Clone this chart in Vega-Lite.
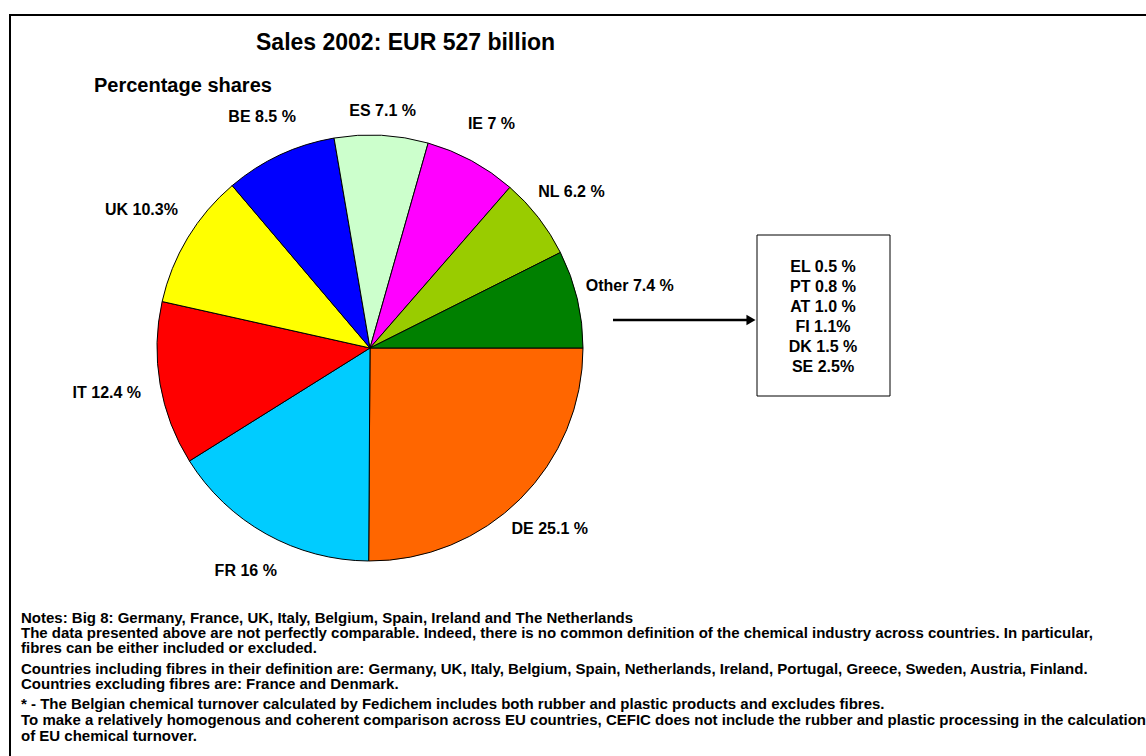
{
  "$schema": "https://vega.github.io/schema/vega-lite/v6.json",
  "width": 1146,
  "height": 756,
  "autosize": {"type": "none"},
  "padding": 0,
  "background": "white",
  "config": {"view": {"stroke": null}, "font": "Liberation Sans", "text": {"font": "Liberation Sans"}},
  "datasets": {
    "shares": [
      {"country": "DE", "share": 25.1, "label": "DE 25.1 %"},
      {"country": "FR", "share": 16, "label": "FR 16 %"},
      {"country": "IT", "share": 12.4, "label": "IT 12.4 %"},
      {"country": "UK", "share": 10.3, "label": "UK 10.3%"},
      {"country": "BE", "share": 8.5, "label": "BE 8.5 %"},
      {"country": "ES", "share": 7.1, "label": "ES 7.1 %"},
      {"country": "IE", "share": 7, "label": "IE 7 %"},
      {"country": "NL", "share": 6.2, "label": "NL 6.2 %"},
      {"country": "Other", "share": 7.4, "label": "Other 7.4 %"}
    ]
  },
  "layer": [
    {
      "data": {"values": [{}]},
      "mark": {"type": "rect", "fill": "white", "stroke": "black", "strokeWidth": 2},
      "encoding": {
        "x": {"datum": 10, "type": "quantitative", "scale": {"domain": [0, 1146], "range": [0, 1146], "nice": false, "zero": false}, "axis": null},
        "x2": {"datum": 1200},
        "y": {"datum": 15, "type": "quantitative", "scale": {"domain": [0, 756], "range": [0, 756], "nice": false, "zero": false}, "axis": null},
        "y2": {"datum": 800}
      }
    },
    {
      "data": {"name": "shares"},
      "transform": [{"window": [{"op": "row_number", "as": "idx"}]}],
      "mark": {"type": "arc", "outerRadius": 213, "stroke": "black", "strokeWidth": 1},
      "encoding": {
        "x": {"datum": 370, "type": "quantitative"},
        "y": {"datum": 348, "type": "quantitative"},
        "theta": {"field": "share", "type": "quantitative", "stack": true, "scale": {"type": "linear", "domain": [0, 100], "range": [1.5708, 7.854]}},
        "order": {"field": "idx", "type": "quantitative"},
        "color": {
          "field": "country", "type": "nominal",
          "scale": {"domain": ["DE", "FR", "IT", "UK", "BE", "ES", "IE", "NL", "Other"], "range": ["#FF6600", "#00CCFF", "#FF0000", "#FFFF00", "#0000FF", "#CCFFCC", "#FF00FF", "#99CC00", "#008000"]},
          "legend": null
        }
      }
    },
    {
      "data": {"name": "shares"},
      "transform": [{"window": [{"op": "row_number", "as": "idx"}]}],
      "mark": {"type": "text", "radius": 237, "fontSize": 16, "fontWeight": "bold", "align": "center", "baseline": "middle", "color": "black"},
      "encoding": {
        "x": {"datum": 370, "type": "quantitative"},
        "y": {"datum": 348, "type": "quantitative"},
        "theta": {"field": "share", "type": "quantitative", "stack": true},
        "order": {"field": "idx", "type": "quantitative"},
        "text": {"condition": {"test": "datum.country === 'ES'", "field": "label"}, "value": ""}
      }
    },
    {
      "data": {"name": "shares"},
      "transform": [{"window": [{"op": "row_number", "as": "idx"}]}],
      "mark": {"type": "text", "radius": 255, "fontSize": 16, "fontWeight": "bold", "align": "center", "baseline": "middle", "color": "black"},
      "encoding": {
        "x": {"datum": 370, "type": "quantitative"},
        "y": {"datum": 348, "type": "quantitative"},
        "theta": {"field": "share", "type": "quantitative", "stack": true},
        "order": {"field": "idx", "type": "quantitative"},
        "text": {"condition": {"test": "indexof(['BE','IE','FR','NL','DE'], datum.country) >= 0", "field": "label"}, "value": ""}
      }
    },
    {
      "data": {"name": "shares"},
      "transform": [{"window": [{"op": "row_number", "as": "idx"}]}],
      "mark": {"type": "text", "radius": 267, "fontSize": 16, "fontWeight": "bold", "align": "center", "baseline": "middle", "color": "black"},
      "encoding": {
        "x": {"datum": 370, "type": "quantitative"},
        "y": {"datum": 348, "type": "quantitative"},
        "theta": {"field": "share", "type": "quantitative", "stack": true},
        "order": {"field": "idx", "type": "quantitative"},
        "text": {"condition": {"test": "indexof(['UK','Other','IT'], datum.country) >= 0", "field": "label"}, "value": ""}
      }
    },
    {
      "data": {"values": [{}]},
      "mark": {"type": "text", "text": "Sales 2002: EUR 527 billion", "fontSize": 23, "fontWeight": "bold", "align": "left", "baseline": "alphabetic", "color": "black"},
      "encoding": {"x": {"datum": 256, "type": "quantitative"}, "y": {"datum": 50, "type": "quantitative"}}
    },
    {
      "data": {"values": [{}]},
      "mark": {"type": "text", "text": "Percentage shares", "fontSize": 20, "fontWeight": "bold", "align": "left", "baseline": "alphabetic", "color": "black"},
      "encoding": {"x": {"datum": 94, "type": "quantitative"}, "y": {"datum": 92, "type": "quantitative"}}
    },
    {
      "data": {"values": [{}]},
      "mark": {"type": "rule", "color": "black", "strokeWidth": 2.5},
      "encoding": {"x": {"datum": 613, "type": "quantitative"}, "x2": {"datum": 750}, "y": {"datum": 320, "type": "quantitative"}}
    },
    {
      "data": {"values": [{}]},
      "mark": {"type": "point", "shape": "triangle-right", "filled": true, "color": "black", "opacity": 1, "size": 110},
      "encoding": {"x": {"datum": 751, "type": "quantitative"}, "y": {"datum": 320, "type": "quantitative"}}
    },
    {
      "data": {"values": [{}]},
      "mark": {"type": "rect", "fill": "white", "stroke": "black", "strokeWidth": 1},
      "encoding": {
        "x": {"datum": 757, "type": "quantitative"}, "x2": {"datum": 890},
        "y": {"datum": 235, "type": "quantitative"}, "y2": {"datum": 396}
      }
    },
    {
      "data": {"values": [{}]},
      "mark": {"type": "text", "text": ["EL 0.5 %", "PT 0.8 %", "AT 1.0 %", "FI 1.1%", "DK 1.5 %", "SE 2.5%"], "fontSize": 16, "fontWeight": "bold", "align": "center", "baseline": "middle", "lineHeight": 20, "color": "black"},
      "encoding": {"x": {"datum": 823, "type": "quantitative"}, "y": {"datum": 267, "type": "quantitative"}}
    },
    {
      "data": {"values": [{}]},
      "mark": {"type": "text", "text": ["Notes: Big 8: Germany, France, UK, Italy, Belgium, Spain, Ireland and The Netherlands", "The data presented above are not perfectly comparable. Indeed, there is no common definition of the chemical industry across countries. In particular,", "fibres can be either included or excluded."], "fontSize": 15, "fontWeight": "bold", "align": "left", "baseline": "alphabetic", "lineHeight": 15, "color": "black"},
      "encoding": {"x": {"datum": 21, "type": "quantitative"}, "y": {"datum": 623, "type": "quantitative"}}
    },
    {
      "data": {"values": [{}]},
      "mark": {"type": "text", "text": ["Countries including fibres in their definition are: Germany, UK, Italy, Belgium, Spain, Netherlands, Ireland, Portugal, Greece, Sweden, Austria, Finland.", "Countries excluding fibres are: France and Denmark."], "fontSize": 15, "fontWeight": "bold", "align": "left", "baseline": "alphabetic", "lineHeight": 15, "color": "black"},
      "encoding": {"x": {"datum": 21, "type": "quantitative"}, "y": {"datum": 674, "type": "quantitative"}}
    },
    {
      "data": {"values": [{}]},
      "mark": {"type": "text", "text": ["* - The Belgian chemical turnover calculated by Fedichem includes both rubber and plastic products and excludes fibres.", "To make a relatively homogenous and coherent comparison across EU countries, CEFIC does not include the rubber and plastic processing in the calculation", "of EU chemical turnover."], "fontSize": 15, "fontWeight": "bold", "align": "left", "baseline": "alphabetic", "lineHeight": 16, "color": "black"},
      "encoding": {"x": {"datum": 21, "type": "quantitative"}, "y": {"datum": 709, "type": "quantitative"}}
    }
  ]
}
